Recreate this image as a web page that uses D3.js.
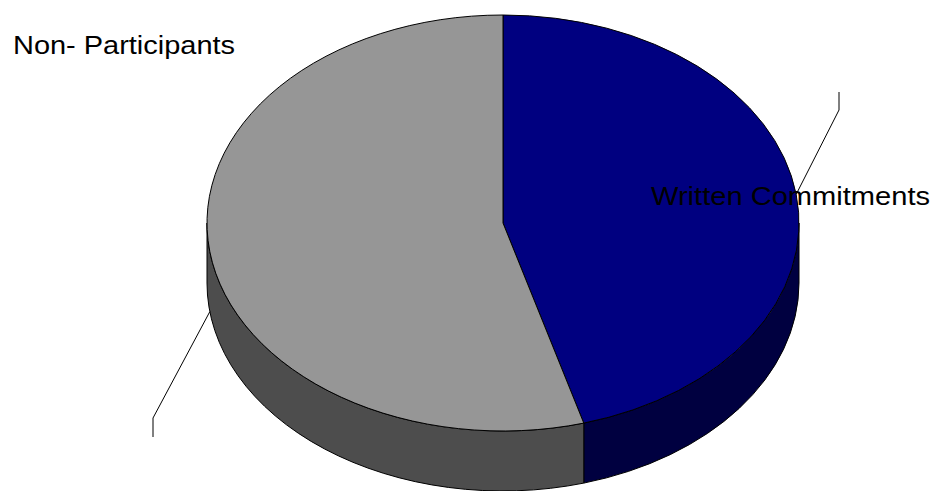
<!DOCTYPE html>
<html><head><meta charset="utf-8">
<script src="https://cdn.jsdelivr.net/npm/d3@7"></script>
<style>html,body{margin:0;padding:0;background:#fff;}svg{display:block;}</style>
</head><body>
<script>
// ---- data ----
const categories = ["Written Commitments", "Non- Participants"];
const values = [45.6, 54.4];
const topColors = ["#000080", "#969696"];
const sideColors = ["#000040", "#4d4d4d"];

const W = 935, H = 491;
const cx = 503, cy = 223, rx = 296, ry = 208, depth = 60;

const svg = d3.select("body").append("svg").attr("width", W).attr("height", H);

const pie = d3.pie().sort(null).value(d => d)(values);
// angle a measured clockwise from 12 o'clock (radians)
const px = a => cx + rx * Math.sin(a);
const py = (a, dz = 0) => cy - ry * Math.cos(a) + dz;

function arcSeg(a0, a1, dz) {
  const large = (a1 - a0) > Math.PI ? 1 : 0;
  return `A${rx},${ry} 0 ${large} 1 ${px(a1)},${py(a1, dz)}`;
}

// side walls (front half: PI/2 .. 3PI/2)
const sides = [];
pie.forEach((s, i) => {
  const a0 = Math.max(s.startAngle, Math.PI / 2);
  const a1 = Math.min(s.endAngle, 3 * Math.PI / 2);
  if (a1 > a0) sides.push({ i, a0, a1 });
});
svg.append("g").selectAll("path").data(sides).join("path")
  .attr("d", d => `M${px(d.a0)},${py(d.a0)} ${arcSeg(d.a0, d.a1, 0)} L${px(d.a1)},${py(d.a1, depth)} ` +
    `A${rx},${ry} 0 0 0 ${px(d.a0)},${py(d.a0, depth)} Z`)
  .attr("fill", d => sideColors[d.i])
  .attr("stroke", "#000").attr("stroke-width", 1).attr("stroke-linejoin", "round");

// top faces
svg.append("g").selectAll("path").data(pie).join("path")
  .attr("d", (d) => `M${cx},${cy} L${px(d.startAngle)},${py(d.startAngle)} ${arcSeg(d.startAngle, d.endAngle, 0)} Z`)
  .attr("fill", (d, i) => topColors[i])
  .attr("stroke", "#000").attr("stroke-width", 1).attr("stroke-linejoin", "round");

// leader lines + labels
const mid = d => (d.startAngle + d.endAngle) / 2;
const a0 = mid(pie[0]), a1 = mid(pie[1]);
const leaders = [
  [[px(a0), py(a0)], [839, 110], [839, 92]],
  [[px(a1), py(a1, depth)], [153, 418], [153, 437]]
];
svg.append("g").selectAll("path").data(leaders).join("path")
  .attr("d", d3.line())
  .attr("fill", "none").attr("stroke", "#000").attr("stroke-width", 1);

const labels = [
  { text: categories[0], x: 651, y: 205, len: 279 },
  { text: categories[1], x: 13, y: 54, len: 222 }
];
svg.append("g").selectAll("text").data(labels).join("text")
  .attr("x", d => d.x).attr("y", d => d.y)
  .attr("textLength", d => d.len).attr("lengthAdjust", "spacingAndGlyphs")
  .attr("font-family", "Liberation Sans, Arial, sans-serif")
  .attr("font-size", 25).attr("fill", "#000")
  .text(d => d.text);
</script>
</body></html>
